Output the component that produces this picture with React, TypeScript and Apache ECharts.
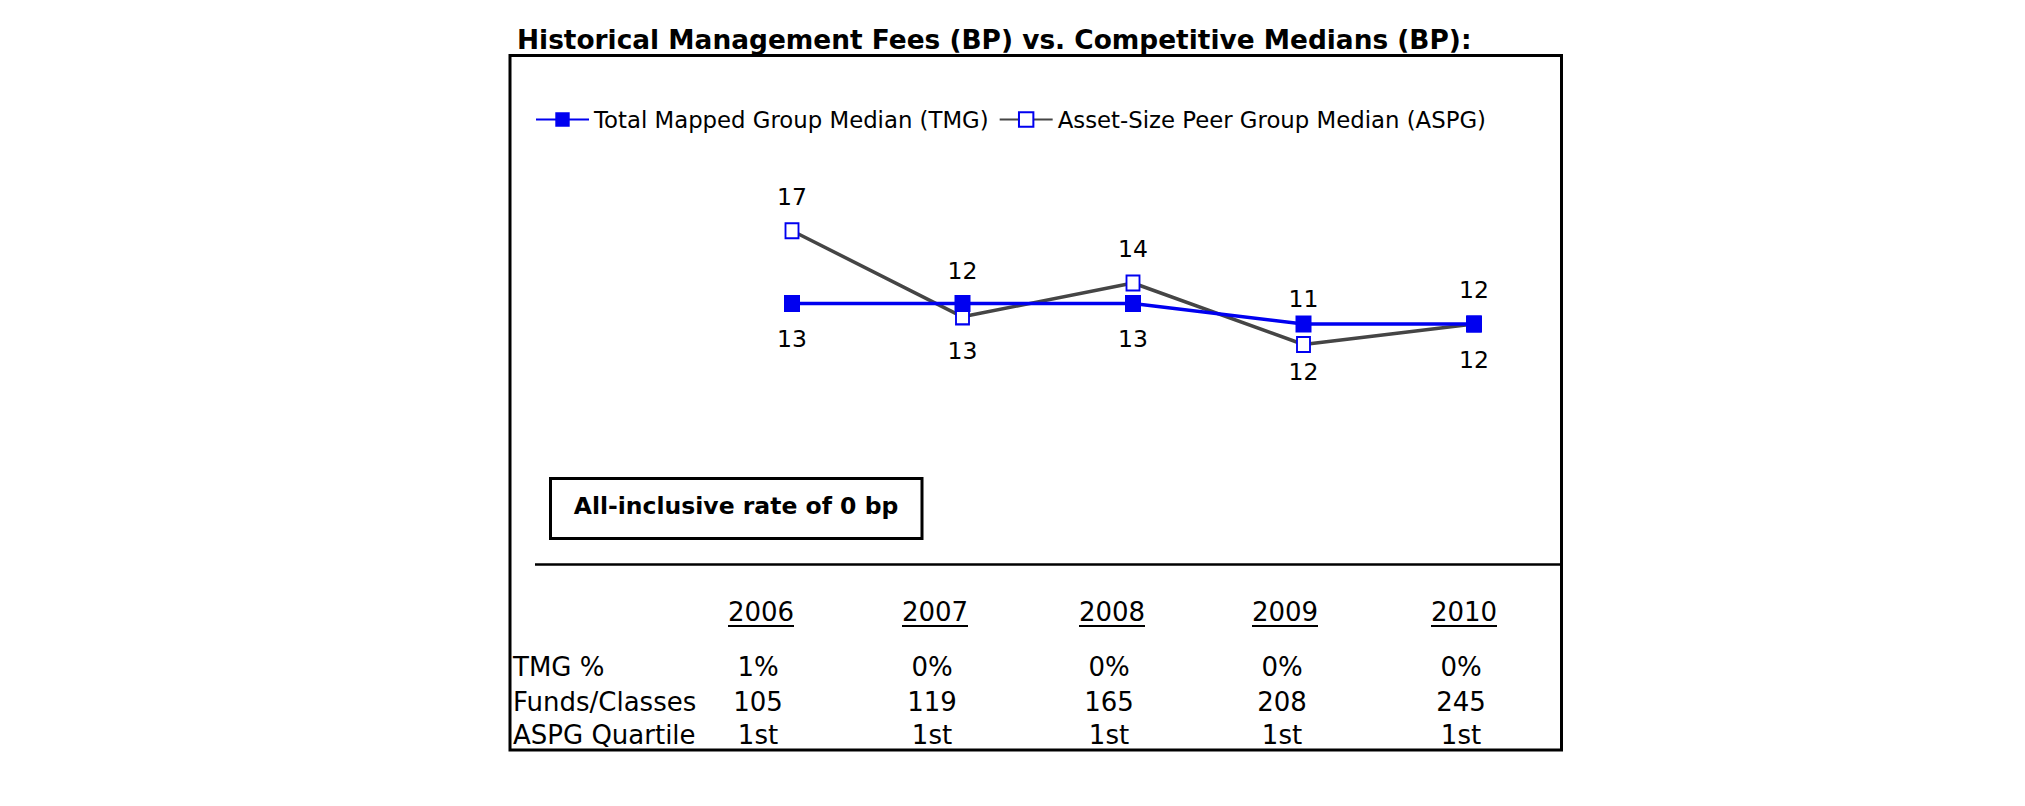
import React, { useEffect, useRef } from "react";
import * as echarts from "echarts";

// ---------- data ----------
const chartTitle = "Historical Management Fees (BP) vs. Competitive Medians (BP):";
const years = ["2006", "2007", "2008", "2009", "2010"];
const tmgName = "Total Mapped Group Median (TMG)";
const aspgName = "Asset-Size Peer Group Median (ASPG)";
const tmgMedian = [13, 13, 13, 12, 12];
const aspgMedian = [16.55, 12.35, 14, 11, 12];
const allInclusiveText = "All-inclusive rate of 0 bp";
const rowLabels = ["TMG %", "Funds/Classes", "ASPG Quartile"];
const tmgPct = ["1%", "0%", "0%", "0%", "0%"];
const fundsClasses = ["105", "119", "165", "208", "245"];
const aspgQuartile = ["1st", "1st", "1st", "1st", "1st"];
const tableRows = [tmgPct, fundsClasses, aspgQuartile];

// ---------- styles ----------
const FONT = "DejaVu Sans";
const BLUE = "#0000F0";
const GRAY = "#454545";
const yearCenters = [761, 935, 1112, 1285, 1464];
const yearY = 612;
const rowY = [667, 702, 735];
const TABLE_FS = 26;

export default function App() {
  const ref = useRef<HTMLDivElement>(null);

  useEffect(() => {
    if (!ref.current) return;
    const chart = echarts.init(ref.current, null, { renderer: "svg" });

    const lift = years.map((_, i) => (aspgMedian[i] < tmgMedian[i] ? 12 : 0));

    const tmgData = tmgMedian.map((v, i) => ({
      value: v,
      label: { distance: 15 + lift[i] },
    }));
    const aspgData = aspgMedian.map((v, i) => ({
      value: v,
      label: { distance: 13 + lift[i] },
    }));

    const graphics: any[] = [
      {
        type: "text",
        x: 517,
        y: 39,
        style: {
          text: chartTitle,
          fontFamily: FONT,
          fontWeight: "bold",
          fontSize: 26.4,
          fill: "#000",
          align: "left",
          verticalAlign: "middle",
        },
      },
      {
        type: "rect",
        shape: { x: 510, y: 55.5, width: 1051.5, height: 694.5 },
        style: { fill: "none", stroke: "#000", lineWidth: 3 },
      },
      {
        type: "rect",
        shape: { x: 550.5, y: 478.5, width: 371.5, height: 60 },
        style: { fill: "#fff", stroke: "#000", lineWidth: 3 },
      },
      {
        type: "text",
        x: 736,
        y: 506,
        style: {
          text: allInclusiveText,
          fontFamily: FONT,
          fontWeight: "bold",
          fontSize: 23.5,
          fill: "#000",
          align: "center",
          verticalAlign: "middle",
        },
      },
      {
        type: "line",
        shape: { x1: 535, y1: 564.5, x2: 1561, y2: 564.5 },
        style: { stroke: "#000", lineWidth: 2.5 },
      },
    ];

    years.forEach((yr, i) => {
      graphics.push({
        type: "text",
        x: yearCenters[i],
        y: yearY,
        style: {
          text: yr,
          fontFamily: FONT,
          fontSize: TABLE_FS,
          fill: "#000",
          align: "center",
          verticalAlign: "middle",
        },
      });
      graphics.push({
        type: "line",
        shape: {
          x1: yearCenters[i] - 33,
          y1: yearY + 14,
          x2: yearCenters[i] + 33,
          y2: yearY + 14,
        },
        style: { stroke: "#000", lineWidth: 2 },
      });
    });

    rowLabels.forEach((lab, r) => {
      graphics.push({
        type: "text",
        x: 513,
        y: rowY[r],
        style: {
          text: lab,
          fontFamily: FONT,
          fontSize: TABLE_FS,
          fill: "#000",
          align: "left",
          verticalAlign: "middle",
        },
      });
      tableRows[r].forEach((val, i) => {
        graphics.push({
          type: "text",
          x: yearCenters[i] - 3,
          y: rowY[r],
          style: {
            text: val,
            fontFamily: FONT,
            fontSize: TABLE_FS,
            fill: "#000",
            align: "center",
            verticalAlign: "middle",
          },
        });
      });
    });

    chart.setOption({
      animation: false,
      backgroundColor: "#fff",
      textStyle: { fontFamily: FONT },
      legend: {
        left: 535,
        top: 108,
        padding: 0,
        itemWidth: 53,
        itemHeight: 18,
        itemGap: 10,
        data: [tmgName, aspgName],
        textStyle: { fontSize: 22.8, color: "#000", fontFamily: FONT },
      },
      grid: { left: 792, right: 551, top: 160, bottom: 400 },
      xAxis: {
        type: "category",
        data: years,
        boundaryGap: false,
        show: false,
      },
      yAxis: { type: "value", min: 8, max: 20, show: false },
      series: [
        {
          name: tmgName,
          type: "line",
          z: 3,
          data: tmgData,
          symbol: "rect",
          symbolSize: [16, 17],
          lineStyle: { color: BLUE, width: 3.5 },
          itemStyle: { color: BLUE },
          label: {
            show: true,
            position: "bottom",
            fontSize: 23.5,
            color: "#000",
            fontFamily: FONT,
            formatter: (p: any) => String(Math.round(p.value)),
          },
        },
        {
          name: aspgName,
          type: "line",
          z: 2,
          data: aspgData,
          symbol: "emptyRect",
          symbolSize: [13, 15],
          lineStyle: { color: GRAY, width: 3.5 },
          itemStyle: { color: BLUE, borderColor: BLUE, borderWidth: 3 },
          label: {
            show: true,
            position: "top",
            fontSize: 23.5,
            color: "#000",
            fontFamily: FONT,
            formatter: (p: any) => String(Math.round(p.value)),
          },
        },
      ],
      graphic: graphics,
    });

    return () => chart.dispose();
  }, []);

  return (
    <div
      ref={ref}
      style={{ position: "fixed", left: 0, top: 0, width: 2025, height: 806 }}
    />
  );
}
